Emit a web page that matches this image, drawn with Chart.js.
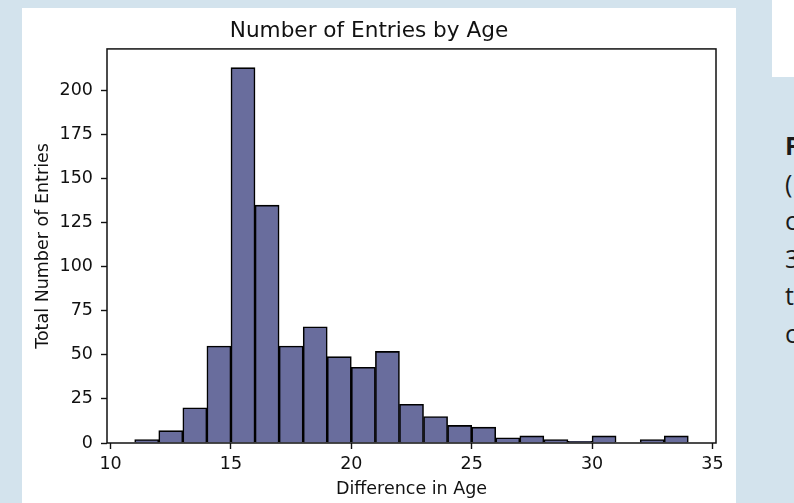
<!DOCTYPE html>
<html>
<head>
<meta charset="utf-8">
<script src="https://cdn.jsdelivr.net/npm/chart.js@4/dist/chart.umd.min.js"></script>
<style>
  html, body { margin: 0; padding: 0; width: 794px; height: 503px; overflow: hidden; background: #d3e3ed; }
  #panel { position: absolute; left: 22px; top: 8px; width: 714px; height: 495px; background: #ffffff; }
  #corner { position: absolute; left: 772px; top: 0; width: 22px; height: 77px; background: #ffffff; }
  #side { position: absolute; left: 785px; top: 127px; font-family: "Open Sans", "Noto Sans", sans-serif; font-size: 25px; line-height: 37.5px; color: #1a1a1a; white-space: nowrap; }
  #side b { font-weight: 700; }
  #wrap { position: absolute; left: 0; top: 0; width: 794px; height: 503px; }
</style>
</head>
<body>
<div id="panel"></div>
<div id="corner"></div>
<div id="side"><b>F</b><br>(<br>c<br>3<br>t<br>c</div>
<div id="wrap"><canvas id="c" width="794" height="503"></canvas></div>
<script>
// ---- data ----
const binLeft = [11,12,13,14,15,16,17,18,19,20,21,22,23,24,25,26,27,28,29,30,31,32,33];
const binWidth = 1;
const counts  = [2,7,20,55,213,135,55,66,49,43,52,22,15,10,9,3,4,2,1,4,0,2,4];
const xTicks = [10,15,20,25,30,35];
const yTicks = [0,25,50,75,100,125,150,175,200];
const chartTitle = "Number of Entries by Age";
const xLabel = "Difference in Age";
const yLabel = "Total Number of Entries";

const points = binLeft.map((b, i) => ({ x: b + binWidth / 2, y: counts[i] }));
const span = binLeft[binLeft.length-1] + binWidth - binLeft[0];
const xMin = binLeft[0] - 0.05 * span;
const xMax = binLeft[binLeft.length-1] + binWidth + 0.05 * span;
const yMax = Math.max(...counts) * 1.05;

const FONT = "'DejaVu Sans', sans-serif";
const TXT = '#111';

const frame = {
  id: 'frame',
  afterDatasetsDraw(chart) {
    const { ctx, chartArea: a } = chart;
    ctx.save();
    ctx.strokeStyle = '#111';
    ctx.lineWidth = 1.5;
    ctx.strokeRect(a.left, a.top, a.right - a.left, a.bottom - a.top);
    ctx.restore();
  }
};

new Chart(document.getElementById('c'), {
  type: 'bar',
  data: {
    datasets: [{
      data: points,
      backgroundColor: '#696d9d',
      borderColor: '#000',
      borderWidth: 1.6,
      borderSkipped: 'start',
      barPercentage: 1,
      categoryPercentage: 1
    }]
  },
  options: {
    responsive: false,
    animation: false,
    layout: { padding: { left: 22, right: 78, top: 8, bottom: 0 } },
    plugins: {
      legend: { display: false },
      tooltip: { enabled: false },
      title: {
        display: true, text: chartTitle, color: TXT,
        font: { family: FONT, size: 21.6, weight: 'normal' },
        padding: { top: 10, bottom: 5 }
      }
    },
    scales: {
      x: {
        type: 'linear', min: xMin, max: xMax, offset: false,
        afterBuildTicks: s => { s.ticks = xTicks.map(v => ({ value: v })); },
        afterFit: s => { s.height = 60; },
        grid: { display: true, offset: false, drawOnChartArea: false, drawTicks: true, tickLength: 6, tickColor: '#111', tickWidth: 1.4 },
        border: { display: false },
        ticks: { color: TXT, font: { family: FONT, size: 17.5 }, padding: 5, maxRotation: 0, autoSkip: false },
        title: { display: true, text: xLabel, color: TXT, font: { family: FONT, size: 17.5 }, padding: { top: 0, bottom: 3 } }
      },
      y: {
        type: 'linear', min: 0, max: yMax,
        afterBuildTicks: s => { s.ticks = yTicks.map(v => ({ value: v })); },
        afterFit: s => { s.width = 85; },
        grid: { display: true, offset: false, drawOnChartArea: false, drawTicks: true, tickLength: 6, tickColor: '#111', tickWidth: 1.4 },
        border: { display: false },
        ticks: { color: TXT, font: { family: FONT, size: 17.5 }, padding: 8, autoSkip: false },
        title: { display: true, text: yLabel, color: TXT, font: { family: FONT, size: 17.5 }, padding: { top: 11, bottom: 0 } }
      }
    }
  },
  plugins: [frame]
});
</script>
</body>
</html>
